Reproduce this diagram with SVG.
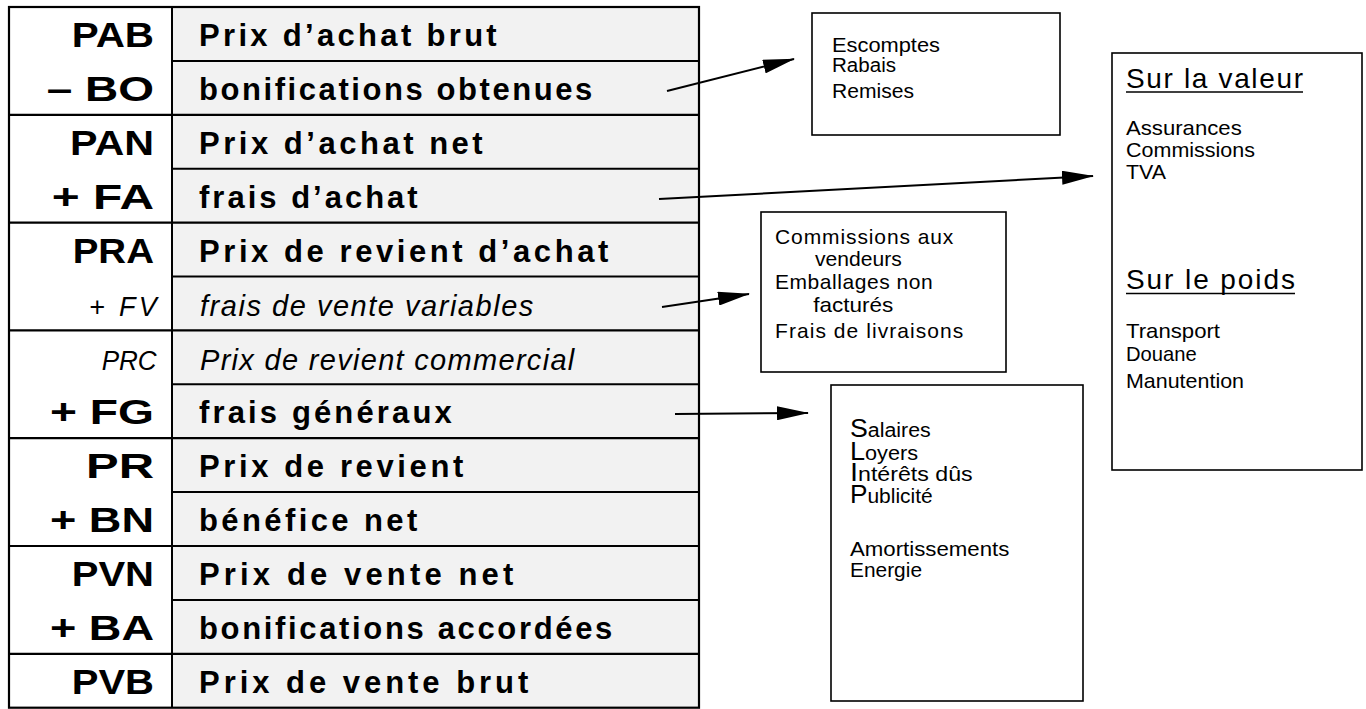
<svg xmlns="http://www.w3.org/2000/svg" width="1366" height="709" viewBox="0 0 1366 709">
<style>
.lb{font-family:"Liberation Sans",Arial,sans-serif;font-weight:bold;font-size:35px;fill:#000}
.li{font-family:"Liberation Sans",Arial,sans-serif;font-style:italic;font-size:27px;fill:#000}
.rb{font-family:"Liberation Sans",Arial,sans-serif;font-weight:bold;font-size:31px;fill:#000}
.ri{font-family:"Liberation Sans",Arial,sans-serif;font-style:italic;font-size:29px;fill:#000}
.bx{fill:#fff;stroke:#000;stroke-width:1.6}
.t18{font-family:"Liberation Sans",Arial,sans-serif;font-size:20px;fill:#000}
.t20{font-family:"Liberation Sans",Arial,sans-serif;font-size:21px;fill:#000}
.t19{font-family:"Liberation Sans",Arial,sans-serif;font-size:20px;fill:#000}
.big{font-size:25px}
.hd{font-family:"Liberation Sans",Arial,sans-serif;font-size:28px;fill:#000}
.ln{stroke:#000;stroke-width:2}
.sep{stroke:#000;stroke-width:2.2}
.con{stroke:#000;stroke-width:2;fill:none;marker-end:url(#ah)}
</style>
<defs>
<marker id="ah" markerWidth="32" markerHeight="14" refX="31" refY="7" orient="auto" markerUnits="userSpaceOnUse">
<path d="M0,0 L32,7 L0,14 z" fill="#000"/>
</marker>
</defs>
<rect width="1366" height="709" fill="#fff"/>

<g id="table">
<rect x="9" y="7" width="163" height="700.7" fill="#fff"/>
<rect x="172" y="7" width="527" height="700.7" fill="#f2f2f2"/>
<g id="gridlines">
<line class="ln" x1="172" y1="60.9" x2="699" y2="60.9"/>
<line class="sep" x1="9" y1="114.8" x2="699" y2="114.8"/>
<line class="ln" x1="172" y1="168.7" x2="699" y2="168.7"/>
<line class="sep" x1="9" y1="222.6" x2="699" y2="222.6"/>
<line class="ln" x1="172" y1="276.5" x2="699" y2="276.5"/>
<line class="sep" x1="9" y1="330.4" x2="699" y2="330.4"/>
<line class="ln" x1="172" y1="384.3" x2="699" y2="384.3"/>
<line class="sep" x1="9" y1="438.2" x2="699" y2="438.2"/>
<line class="ln" x1="172" y1="492.1" x2="699" y2="492.1"/>
<line class="sep" x1="9" y1="546" x2="699" y2="546"/>
<line class="ln" x1="172" y1="599.9" x2="699" y2="599.9"/>
<line class="sep" x1="9" y1="653.8" x2="699" y2="653.8"/>
<line class="ln" x1="172" y1="7" x2="172" y2="707.7"/>
<rect x="9" y="7" width="690" height="700.7" fill="none" stroke="#000" stroke-width="2.2"/>
</g>
<g id="row-pab"><text class="lb" x="71.7" y="47" textLength="82.3" lengthAdjust="spacingAndGlyphs">PAB</text><text class="rb" x="199" y="46" textLength="297.7" lengthAdjust="spacing">Prix d’achat brut</text></g>
<g id="row-bo"><text class="lb" x="46.7" y="100.9" textLength="107.3" lengthAdjust="spacingAndGlyphs">– BO</text><text class="rb" x="199" y="99.9" textLength="393.3" lengthAdjust="spacing">bonifications obtenues</text></g>
<g id="row-pan"><text class="lb" x="70" y="154.8" textLength="84" lengthAdjust="spacingAndGlyphs">PAN</text><text class="rb" x="199" y="153.8" textLength="283.7" lengthAdjust="spacing">Prix d’achat net</text></g>
<g id="row-fa"><text class="lb" x="51.7" y="208.7" textLength="102.3" lengthAdjust="spacingAndGlyphs">+ FA</text><text class="rb" x="199" y="207.7" textLength="218.7" lengthAdjust="spacing">frais d’achat</text></g>
<g id="row-pra"><text class="lb" x="72.7" y="262.6" textLength="81.3" lengthAdjust="spacingAndGlyphs">PRA</text><text class="rb" x="199" y="261.6" textLength="409.3" lengthAdjust="spacing">Prix de revient d’achat</text></g>
<g id="row-fv"><text class="li" x="89" y="316" textLength="67.7" lengthAdjust="spacing">+ FV</text><text class="ri" x="200" y="316" textLength="333.3" lengthAdjust="spacing">frais de vente variables</text></g>
<g id="row-prc"><text class="li" x="101.7" y="370" textLength="55" lengthAdjust="spacingAndGlyphs">PRC</text><text class="ri" x="200" y="370" textLength="374.3" lengthAdjust="spacing">Prix de revient commercial</text></g>
<g id="row-fg"><text class="lb" x="50" y="424.3" textLength="104" lengthAdjust="spacingAndGlyphs">+ FG</text><text class="rb" x="199" y="423.3" textLength="252.7" lengthAdjust="spacing">frais généraux</text></g>
<g id="row-pr"><text class="lb" x="86" y="478.2" textLength="68" lengthAdjust="spacingAndGlyphs">PR</text><text class="rb" x="199" y="477.2" textLength="264.3" lengthAdjust="spacing">Prix de revient</text></g>
<g id="row-bn"><text class="lb" x="50" y="532.1" textLength="104" lengthAdjust="spacingAndGlyphs">+ BN</text><text class="rb" x="199" y="531.1" textLength="218.3" lengthAdjust="spacing">bénéfice net</text></g>
<g id="row-pvn"><text class="lb" x="71.7" y="586" textLength="82.3" lengthAdjust="spacingAndGlyphs">PVN</text><text class="rb" x="199" y="585" textLength="314.3" lengthAdjust="spacing">Prix de vente net</text></g>
<g id="row-ba"><text class="lb" x="50" y="639.9" textLength="104" lengthAdjust="spacingAndGlyphs">+ BA</text><text class="rb" x="199" y="638.9" textLength="413.3" lengthAdjust="spacing">bonifications accordées</text></g>
<g id="row-pvb"><text class="lb" x="71.7" y="693.8" textLength="82.3" lengthAdjust="spacingAndGlyphs">PVB</text><text class="rb" x="199" y="692.8" textLength="329.3" lengthAdjust="spacing">Prix de vente brut</text></g>
</g>

<g id="box-bonifications">
<rect class="bx" x="812" y="13" width="248" height="122"/>
<text class="t18" x="832" y="52" textLength="108" lengthAdjust="spacingAndGlyphs">Escomptes</text>
<text class="t18" x="832" y="72" textLength="64" lengthAdjust="spacingAndGlyphs">Rabais</text>
<text class="t18" x="832" y="98" textLength="82" lengthAdjust="spacingAndGlyphs">Remises</text>
</g>

<g id="box-frais-achat">
<rect class="bx" x="1112" y="53" width="250" height="417"/>
<text class="hd" x="1126" y="88" textLength="177" lengthAdjust="spacing">Sur la valeur</text>
<line x1="1126" y1="92" x2="1303" y2="92" stroke="#000" stroke-width="1.6"/>
<text class="t20" x="1126" y="135" textLength="115.7" lengthAdjust="spacingAndGlyphs">Assurances</text>
<text class="t20" x="1126" y="156.7" textLength="129" lengthAdjust="spacingAndGlyphs">Commissions</text>
<text class="t20" x="1126" y="179" textLength="40" lengthAdjust="spacingAndGlyphs">TVA</text>
<text class="hd" x="1126" y="289.3" textLength="169" lengthAdjust="spacing">Sur le poids</text>
<line x1="1126" y1="293.5" x2="1295" y2="293.5" stroke="#000" stroke-width="1.6"/>
<text class="t20" x="1126" y="338" textLength="94" lengthAdjust="spacingAndGlyphs">Transport</text>
<text class="t20" x="1126" y="361" textLength="70.7" lengthAdjust="spacingAndGlyphs">Douane</text>
<text class="t20" x="1126" y="388" textLength="118" lengthAdjust="spacingAndGlyphs">Manutention</text>
</g>

<g id="box-frais-vente">
<rect class="bx" x="761" y="212" width="245" height="160"/>
<text class="t20" x="775" y="244.3" textLength="178.3" lengthAdjust="spacing">Commissions aux</text>
<text class="t20" x="815" y="266" textLength="86.7" lengthAdjust="spacingAndGlyphs">vendeurs</text>
<text class="t20" x="775" y="289.3" textLength="157.7" lengthAdjust="spacing">Emballages non</text>
<text class="t20" x="813.3" y="311.7" textLength="80" lengthAdjust="spacingAndGlyphs">facturés</text>
<text class="t20" x="775" y="338.3" textLength="188.3" lengthAdjust="spacing">Frais de livraisons</text>
</g>

<g id="box-frais-generaux">
<rect class="bx" x="831" y="385" width="252" height="316"/>
<text class="t19" x="850" y="437" textLength="80.7" lengthAdjust="spacingAndGlyphs"><tspan class="big">S</tspan>alaires</text>
<text class="t19" x="850" y="459.5" textLength="68" lengthAdjust="spacingAndGlyphs"><tspan class="big">L</tspan>oyers</text>
<text class="t19" x="850" y="481" textLength="122.7" lengthAdjust="spacingAndGlyphs"><tspan class="big">I</tspan>ntérêts dûs</text>
<text class="t19" x="850" y="502.7" textLength="82.7" lengthAdjust="spacingAndGlyphs"><tspan class="big">P</tspan>ublicité</text>
<text class="t20" x="850" y="556" textLength="159.3" lengthAdjust="spacingAndGlyphs">Amortissements</text>
<text class="t20" x="850" y="576.7" textLength="72" lengthAdjust="spacingAndGlyphs">Energie</text>
</g>

<g id="connectors">
<line class="con" x1="667" y1="91" x2="794" y2="59"/>
<line class="con" x1="659" y1="199" x2="1093" y2="176"/>
<line class="con" x1="662" y1="307" x2="749" y2="294"/>
<line class="con" x1="675" y1="414" x2="808" y2="413"/>
</g>
</svg>
